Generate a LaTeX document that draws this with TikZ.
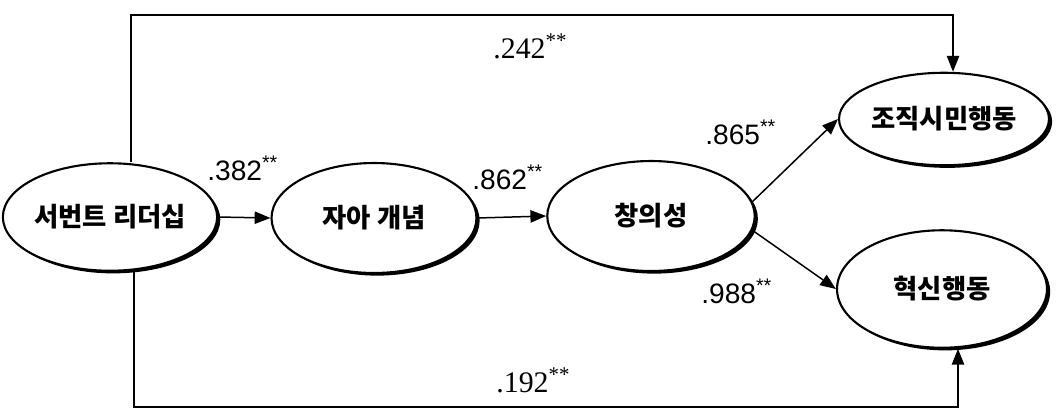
\documentclass[tikz,border=0pt]{standalone}
\usepackage{fontspec}
\setmainfont{Liberation Serif}
\setsansfont{Liberation Sans}
\newfontfamily\kor{Noto Sans CJK KR}
\usepackage{tikz}
\usetikzlibrary{arrows.meta,shapes.geometric,shadows}

\begin{document}
\begin{tikzpicture}[x=0.02cm,y=-0.02cm,
    var/.style={ellipse,draw,line width=1.2pt,fill=white,inner sep=0pt,
      drop shadow={shadow xshift=1.8pt,shadow yshift=-1.5pt,fill=black,opacity=1},
      font=\kor\bfseries\fontsize{15}{17}\selectfont},
    link/.style={line width=0.85pt,-{Triangle[length=9pt,width=7pt]}},
    coef/.style={anchor=west,inner sep=0pt,font=\sffamily\fontsize{16}{18}\selectfont},
    coefs/.style={anchor=west,inner sep=0pt,font=\rmfamily\fontsize{17}{19}\selectfont}]
    \useasboundingbox (0,0) rectangle (1057,413);
    % Variables
    \node[var,minimum width=4.15cm,minimum height=2.15cm] (svl) at (110,217) {서번트 리더십};
    \node[var,minimum width=4.1cm,minimum height=2.2cm] (self) at (374,218) {자아 개념};
    \node[var,minimum width=4.15cm,minimum height=2.2cm] (crea) at (651,216) {창의성};
    \node[var,minimum width=4.2cm,minimum height=1.85cm] (ocb) at (944,119) {조직시민행동};
    \node[var,minimum width=4.2cm,minimum height=2.35cm] (inno) at (942,289) {혁신행동};
    % Corners of the direct paths
    \coordinate (topL) at (131,15);
    \coordinate (topR) at (953,15);
    \coordinate (botL) at (134,407);
    \coordinate (botR) at (958,407);
    % Paths
    \draw[link] (svl.east) -- (self.west);
    \draw[link] (self.east) -- (crea.west);
    \draw[link] (crea.8) -- (ocb.west);
    \draw[link] (crea.-8) -- (inno.west);
    \draw[link] (svl.north -| topL) -- (topL) -- (topR) -- (ocb.north -| topR);
    \draw[link] (svl.south -| botL) -- (botL) -- (botR) -- (inno.south -| botR);
    % Coefficients
    \node[coef] (c1) at (207,168) {.382\textsuperscript{**}};
    \node[coef] (c2) at (472,177) {.862\textsuperscript{**}};
    \node[coef] (c3) at (705,132) {.865\textsuperscript{**}};
    \node[coef] (c4) at (701,291) {.988\textsuperscript{**}};
    \node[coefs] (c5) at (493,46) {.242\textsuperscript{**}};
    \node[coefs] (c6) at (496,380) {.192\textsuperscript{**}};
  \end{tikzpicture}
\end{document}
